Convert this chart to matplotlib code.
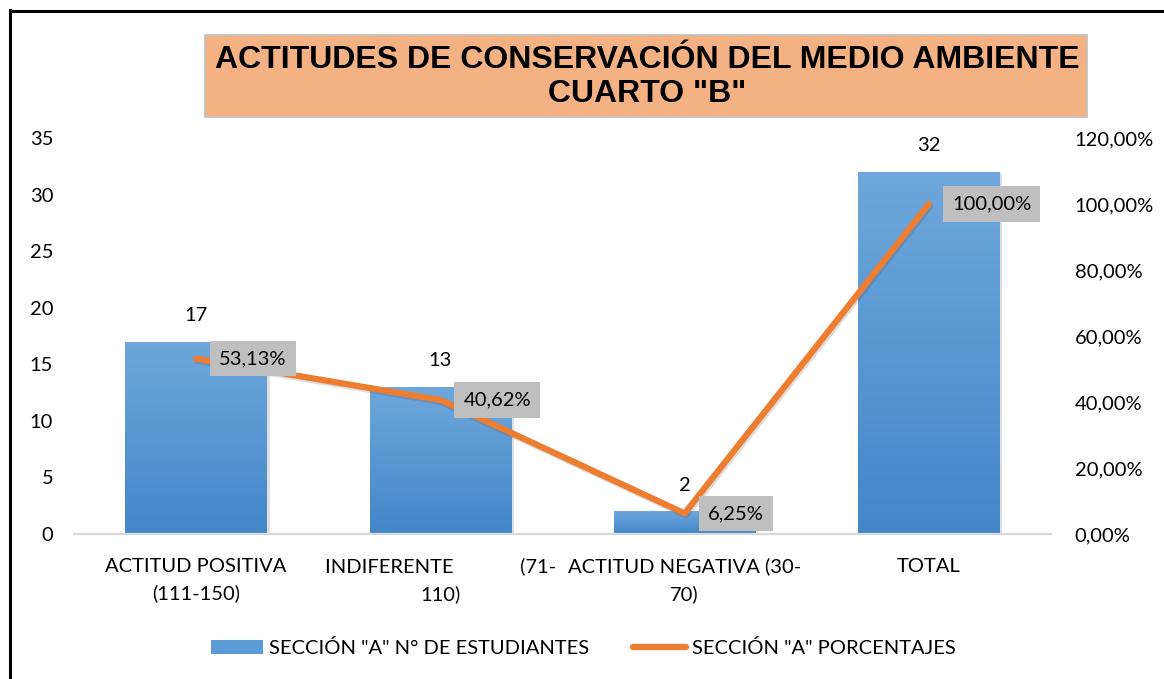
import matplotlib
matplotlib.use("Agg")
import matplotlib.pyplot as plt
import numpy as np
from matplotlib.patches import Rectangle, Patch
from matplotlib.lines import Line2D
from matplotlib.colors import LinearSegmentedColormap
import matplotlib.patheffects as pe

# ---------------- data ----------------
categories = ["ACTITUD POSITIVA\n(111-150)",
              "INDIFERENTE             (71-\n110)",
              "ACTITUD NEGATIVA (30-\n70)",
              "TOTAL"]
students = [17, 13, 2, 32]
percentages = [0.5313, 0.4062, 0.0625, 1.0]
pct_labels = ["53,13%", "40,62%", "6,25%", "100,00%"]
left_ticks = [0, 5, 10, 15, 20, 25, 30, 35]
right_ticks = [0.0, 0.2, 0.4, 0.6, 0.8, 1.0, 1.2]
right_tick_labels = ["0,00%", "20,00%", "40,00%", "60,00%", "80,00%", "100,00%", "120,00%"]
title = 'ACTITUDES DE CONSERVACIÓN DEL MEDIO AMBIENTE\nCUARTO "B"'
bar_legend = 'SECCIÓN "A" N° DE ESTUDIANTES'
line_legend = 'SECCIÓN "A" PORCENTAJES'

# ---------------- style ----------------
W, H = 1164, 679
FONT = "Lato"
FS = 14.5
plt.rcParams["font.family"] = [FONT, "DejaVu Sans"]

fig = plt.figure(figsize=(W / 100, H / 100), dpi=100)
ax = fig.add_axes([74 / W, 145 / H, 977 / W, 396 / H])

x = np.arange(len(categories))
bars = ax.bar(x, students, width=0.58, color="#5B9BD5", zorder=2)
cmap = LinearSegmentedColormap.from_list("g", ["#4287C8", "#6FA7DC"])
grad = np.linspace(0, 1, 256).reshape(-1, 1)
for b in bars:
    b.set_path_effects([pe.SimplePatchShadow(offset=(2, -1), shadow_rgbFace="#808080", alpha=0.25), pe.Normal()])
    im = ax.imshow(grad, extent=(b.get_x(), b.get_x() + b.get_width(), 0, b.get_height()),
                   aspect="auto", cmap=cmap, origin="lower", zorder=2.1)
    im.set_clip_path(b)

ax.set_xlim(-0.5, 3.5)
ax.set_ylim(0, 35)
ax.set_yticks(left_ticks)
ax.tick_params(axis="y", length=0, pad=15, labelsize=FS)
ax.set_xticks(x)
ax.set_xticklabels(categories, fontsize=FS, linespacing=1.65)
ax.tick_params(axis="x", length=0, pad=17)
for s in ["top", "left", "right"]:
    ax.spines[s].set_visible(False)
ax.spines["bottom"].set_color("#D9D9D9")
ax.spines["bottom"].set_linewidth(1.6)

for xi, v in zip(x, students):
    ax.annotate(str(v), (xi, v), xytext=(0, 26), textcoords="offset pixels",
                ha="center", va="center", fontsize=FS, zorder=3)

ax2 = ax.twinx()
ax2.set_ylim(0, 1.2)
ax2.set_yticks(right_ticks)
ax2.set_yticklabels(right_tick_labels)
ax2.tick_params(axis="y", length=0, pad=17, labelsize=FS)
for s in ["top", "left", "right", "bottom"]:
    ax2.spines[s].set_visible(False)

ax2.plot(x, percentages, color="#ED7D31", lw=4.5, solid_capstyle="round",
         solid_joinstyle="round", zorder=3,
         path_effects=[pe.SimpleLineShadow(offset=(1, -1.5), shadow_color="#404040", alpha=0.18),
                       pe.Normal()])
for xi, p, lab in zip(x, percentages, pct_labels):
    ax2.annotate(lab, (xi, p), xytext=(23, 0), textcoords="offset pixels",
                 ha="left", va="center", fontsize=FS, zorder=5,
                 bbox=dict(boxstyle="square,pad=0.45", facecolor="#BFBFBF", edgecolor="none"))

# title box
fig.patches.append(Rectangle((205 / W, 1 - 117 / H), 882 / W, 82 / H, transform=fig.transFigure,
                             facecolor="#F4B183", edgecolor="#BFBFBF", lw=1.2, zorder=0))
fig.text(647 / W, 1 - 77 / H, title, ha="center", va="center", fontsize=23,
         fontweight="bold", family="Liberation Sans", linespacing=1.2)

# legend
handles = [Patch(facecolor="#5B9BD5", edgecolor="none"),
           Line2D([0], [0], color="#ED7D31", lw=4.5, solid_capstyle="round")]
fig.legend(handles, [bar_legend, line_legend], loc="center", ncol=2, frameon=False,
           bbox_to_anchor=(583 / W, 1 - 648 / H), fontsize=FS, handlelength=2.6,
           handletextpad=0.3, columnspacing=2.2, handleheight=0.7)

# outer border
fig.add_artist(Line2D([10.5 / W, 10.5 / W], [0, 1 - 10 / H], transform=fig.transFigure,
                      color="black", lw=2.2))
fig.add_artist(Line2D([10 / W, 1], [1 - 10.5 / H, 1 - 10.5 / H], transform=fig.transFigure,
                      color="black", lw=2.2))

fig.savefig("out.png", dpi=100)
